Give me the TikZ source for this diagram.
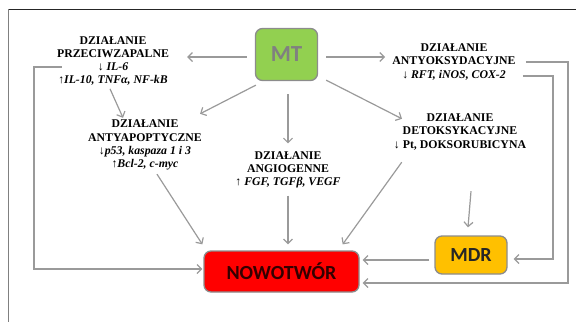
\documentclass[tikz,border=0pt]{standalone}
\usepackage{fontspec}
\setmainfont{Liberation Serif}
\newfontfamily\calibri{Carlito}
\usetikzlibrary{arrows.meta,calc}
\definecolor{mtgreen}{HTML}{92D050}
\definecolor{mdrgold}{HTML}{FFC000}
\definecolor{linegray}{HTML}{9A9A9A}
\definecolor{boxgray}{HTML}{8C8C8C}
\tikzstyle{box} = [rounded corners=7pt, draw=boxgray, line width=1.3pt, font=\calibri\bfseries]
\tikzstyle{effect} = [align=center, inner sep=0pt, font=\fontsize{11.8}{13.2}\selectfont\bfseries]
\tikzstyle{link} = [draw=linegray, line width=1.2pt, -{Straight Barb[length=4.5pt,width=9pt]}]
\newcommand{\dz}{DZIAŁANIE\\}

\begin{document}
\begin{tikzpicture}[x=1pt, y=-1pt]
			\useasboundingbox (0,0) rectangle (576,322);
			\draw[black!85, line width=1pt] (8,9) -- (576,9);
			\draw[gray, line width=1pt] (8,9) -- (8,322);
			% boxes
			\node[box, fill=mtgreen, text=gray, minimum width=62pt, minimum height=52pt, font=\fontsize{23}{23}\calibri\bfseries] (mt) at (286.5,54.5) {MT};
			\node[box, fill=red, text=black!80!red, minimum width=155pt, minimum height=41pt, font=\fontsize{20}{20}\calibri\bfseries] (now) at (281.5,271.5) {NOWOTWÓR};
			\node[box, fill=mdrgold, text=black!85, minimum width=72pt, minimum height=38pt, font=\fontsize{20}{20}\calibri\bfseries] (mdr) at (471,255) {MDR};
			% effects
			\node[effect] (prz) at (113,61) {\dz PRZECIWZAPALNE\\↓ \textit{IL-6}\\↑\textit{IL-10, TNFα, NF-kB}};
			\node[effect] (apo) at (145,145) {\dz ANTYAPOPTYCZNE\\↓\textit{p53, kaspaza 1 i 3}\\↑\textit{Bcl-2, c-myc}};
			\node[effect] (ang) at (288,170) {\dz ANGIOGENNE\\↑ \textit{FGF, TGFβ, VEGF}};
			\node[effect] (oks) at (454,62) {\dz ANTYOKSYDACYJNE\\↓ \textit{RFT, iNOS, COX-2}};
			\node[effect] (det) at (460,132) {\dz DETOKSYKACYJNE\\↓ Pt, DOKSORUBICYNA};
			% from MT
			\draw[link] ($(mt.west)+(-8,2.5)$) -- ($(prz.east)+(18,-4)$);
			\draw[link] ($(mt.east)+(8,2.5)$) -- ($(oks.west)+(-7,-5)$);
			\draw[link] ($(mt.south west)+(1,4)$) -- ($(apo.north)+(55,-6)$);
			\draw[link] ($(mt.south)+(1.5,13)$) -- ($(ang.north)+(0,-8)$);
			\draw[link] ($(mt.south east)+(8,-1)$) -- ($(det.north)+(-58,5)$);
			% to NOWOTWOR
			\draw[link] ($(prz.south)+(-3,3)$) -- ($(apo.north)+(-22,-2)$);
			\draw[link] ($(prz.west)+(5,6)$) -| (34,269) -- ($(now.west)+(-1,-2.5)$);
			\draw[link] ($(apo.south)+(12,4)$) -- ($(now.north west)+(-1,-6)$);
			\draw[link] ($(ang.south)+(0,7)$) -- ($(now.north)+(6.5,-6)$);
			\draw[link] ($(det.south west)+(8,12)$) -- ($(now.north east)+(-17,-6)$);
			\draw[link] (det.south -| mdr.north) ++(0,41) -- ($(mdr.north)+(-3,-8)$);
			\draw[link] ($(oks.east)+(10,0)$) -- (568,62) |- ($(now.east)+(3,11.5)$);
			\draw[link] ($(oks.east)+(7,14)$) -- (553,76) |- ($(mdr.east)+(6,4)$);
			\draw[link] ($(mdr.west)+(-5,5)$) -- ($(now.east)+(3,-11.5)$);
\end{tikzpicture}
\end{document}
